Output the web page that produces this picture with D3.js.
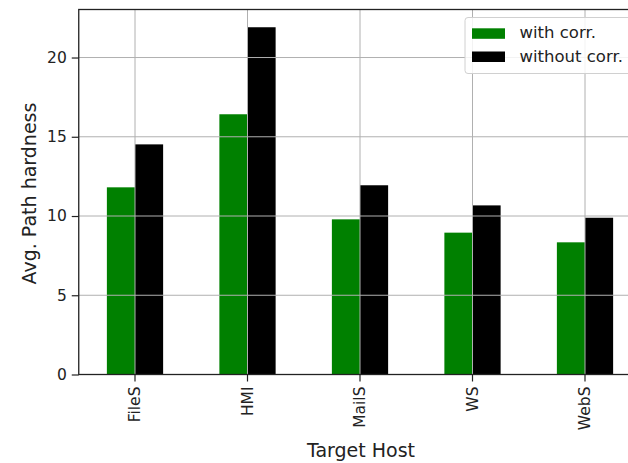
<!DOCTYPE html>
<html>
<head>
<meta charset="utf-8">
<script src="https://cdn.jsdelivr.net/npm/d3@7"></script>
<style>
  html, body { margin: 0; padding: 0; background: #fff; }
  svg { display: block; font-family: "DejaVu Sans", sans-serif; }
</style>
</head>
<body>
<svg id="chart" width="628" height="463"></svg>
<script>
// Average path hardness per target host, with and without correlation
const hosts = ["FileS", "HMI", "MailS", "WS", "WebS"];
const withCorr = [11.81, 16.42, 9.79, 8.95, 8.34];
const withoutCorr = [14.52, 21.91, 11.94, 10.67, 9.89];
const seriesNames = ["with corr.", "without corr."];
const seriesColors = ["#008000", "#000000"];
const yTicks = [0, 5, 10, 15, 20];

const svg = d3.select("#chart");
const plotLeft = 78.75, plotRight = 641.25, plotTop = 9.5, plotBottom = 374.5;

const x = d3.scaleBand().domain(hosts).range([plotLeft, plotRight]).paddingInner(0).paddingOuter(0);
const y = d3.scaleLinear().domain([0, 23.03]).range([plotBottom, plotTop]);
const barW = x.bandwidth() * 0.25;
const cx = h => x(h) + x.bandwidth() / 2;

const series = [withCorr, withoutCorr];

// bars
series.forEach((vals, si) => {
  svg.append("g").selectAll("rect")
    .data(hosts.map((h, i) => ({ h, v: vals[i] })))
    .join("rect")
    .attr("x", d => cx(d.h) + (si === 0 ? -barW : 0))
    .attr("y", d => y(d.v))
    .attr("width", barW)
    .attr("height", d => y(0) - y(d.v))
    .attr("fill", seriesColors[si]);
});

// grid lines drawn over the bars
const grid = svg.append("g").attr("stroke", "#b0b0b0").attr("stroke-width", 1);
grid.selectAll("line.h").data(yTicks).join("line")
  .attr("class", "h")
  .attr("x1", plotLeft).attr("x2", plotRight)
  .attr("y1", d => y(d)).attr("y2", d => y(d));
grid.selectAll("line.v").data(hosts).join("line")
  .attr("class", "v")
  .attr("x1", d => cx(d)).attr("x2", d => cx(d))
  .attr("y1", plotTop).attr("y2", plotBottom);

// axes
const yAxis = d3.axisLeft(y).tickValues(yTicks).tickSize(7).tickPadding(5).tickFormat(d3.format("d"));
const gy = svg.append("g").attr("transform", `translate(${plotLeft},0)`).call(yAxis);
gy.select(".domain").remove();
gy.selectAll(".tick line").attr("stroke", "#222").attr("stroke-width", 1.2);
gy.selectAll(".tick text").attr("font-size", 15.5).attr("fill", "#222").attr("font-family", "DejaVu Sans");

const xAxis = d3.axisBottom(x).tickSize(7).tickPadding(5);
const gx = svg.append("g").attr("transform", `translate(0,${plotBottom})`).call(xAxis);
gx.select(".domain").remove();
gx.selectAll(".tick line").attr("stroke", "#222").attr("stroke-width", 1.2);
gx.selectAll(".tick text")
  .attr("font-size", 15.5).attr("fill", "#222").attr("font-family", "DejaVu Sans")
  .attr("transform", "rotate(-90)")
  .attr("x", -12).attr("y", 0).attr("dy", "0.35em")
  .attr("text-anchor", "end");

// spines
svg.append("rect")
  .attr("x", plotLeft).attr("y", plotTop)
  .attr("width", plotRight - plotLeft).attr("height", plotBottom - plotTop)
  .attr("fill", "none").attr("stroke", "#222").attr("stroke-width", 1.3);

// axis titles
svg.append("text")
  .attr("x", 361).attr("y", 456.5)
  .attr("text-anchor", "middle")
  .attr("font-size", 19).attr("fill", "#222")
  .text("Target Host");
svg.append("text")
  .attr("transform", "translate(36,193.5) rotate(-90)")
  .attr("text-anchor", "middle")
  .attr("font-size", 19).attr("fill", "#222")
  .text("Avg. Path hardness");

// legend
const lg = svg.append("g");
lg.append("rect")
  .attr("x", 465).attr("y", 17.5).attr("width", 175).attr("height", 56)
  .attr("rx", 3)
  .attr("fill", "#fff").attr("fill-opacity", 0.85)
  .attr("stroke", "#d0d0d0").attr("stroke-width", 1);
seriesNames.forEach((name, i) => {
  const yy = 28.3 + i * 23.2;
  lg.append("rect")
    .attr("x", 472).attr("y", yy).attr("width", 33).attr("height", 10.5)
    .attr("fill", seriesColors[i]);
  lg.append("text")
    .attr("x", 519.5).attr("y", yy + 10)
    .attr("font-size", 16.5).attr("fill", "#222")
    .text(name);
});
</script>
</body>
</html>
